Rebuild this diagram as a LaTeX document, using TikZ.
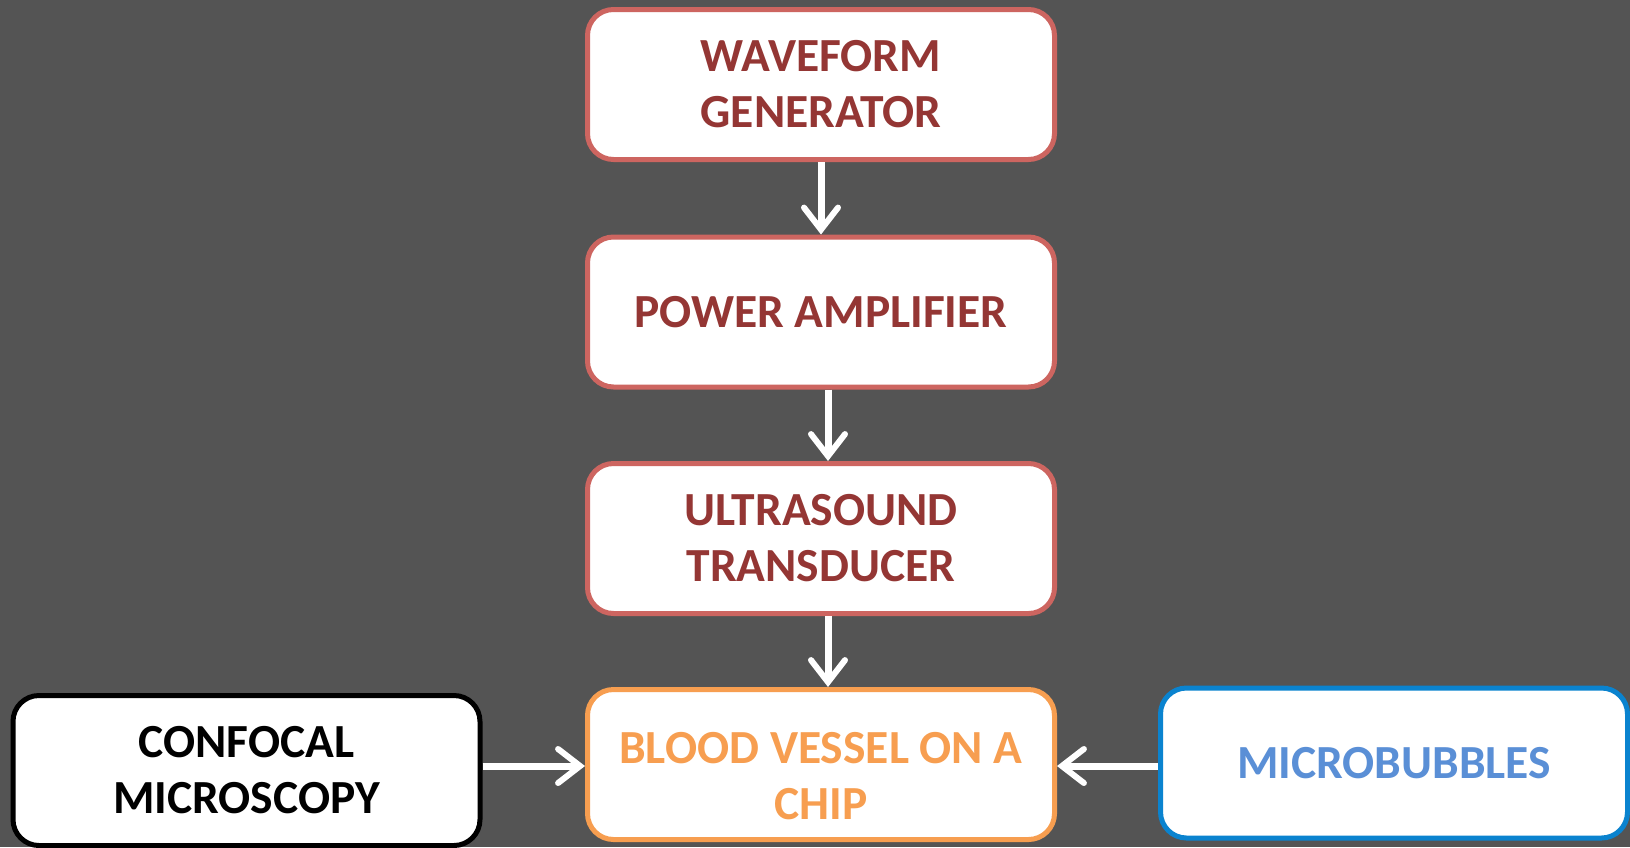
\documentclass[tikz,border=0pt]{standalone}
\usepackage{fontspec}
\setmainfont{Carlito}
\usetikzlibrary{arrows.meta}

\definecolor{bgcol}{HTML}{545454}
\definecolor{redline}{HTML}{CD6560}
\definecolor{redtext}{HTML}{943634}
\definecolor{orangecol}{HTML}{F79E50}
\definecolor{bluelinecol}{HTML}{0A83CF}
\definecolor{bluetext}{HTML}{5A8FD6}

\tikzset{
  block/.style={draw, fill=white, rounded corners=26pt, line width=5pt,
    minimum width=467pt, minimum height=150pt, align=center,
    font=\fontsize{47.5pt}{56pt}\selectfont\bfseries},
  chain/.style={block, draw=redline, text=redtext},
  caption/.style={align=center, font=\fontsize{47.5pt}{56pt}\selectfont\bfseries},
  flow/.style={white, line width=7pt,
    -{Straight Barb[length=22pt,width=34pt,line width=6pt,line cap=round]}}
}

\begin{document}
\begin{tikzpicture}[x=1pt,y=-1pt]
        \fill[bgcol] (0,0) rectangle (1630,847);
        \useasboundingbox (0,0) rectangle (1630,847);
        % signal chain
        \node[chain] (wg) at (821,84.5) {WAVEFORM\\GENERATOR};
        \node[chain] (pa) at (821,312) {POWER AMPLIFIER};
        \node[chain] (us) at (821,538.5) {ULTRASOUND\\TRANSDUCER};
        \node[block, draw=orangecol] (bv) at (821,764.5) {};
        \node[caption, text=orangecol] (bvtext) at (821,776) {BLOOD VESSEL ON A\\CHIP};
        % side inputs
        \node[block, draw=black, text=black] (cm) at (246.5,770.5) {CONFOCAL\\MICROSCOPY};
        \node[block, draw=bluelinecol, text=bluetext] (mb) at (1394,763) {MICROBUBBLES};
        \draw[flow] (wg.south) -- (pa.north);
        \draw[flow] ([xshift=7pt]pa.south) -- ([xshift=7pt]us.north);
        \draw[flow] ([xshift=7pt]us.south) -- ([xshift=7pt]bv.north);
        \draw[flow] ([yshift=4.5pt]cm.east) -- ([yshift=4.5pt]cm.east -| bv.west);
        \draw[flow] ([yshift=-3pt]mb.west) -- ([yshift=-3pt]mb.west -| bv.east);
\end{tikzpicture}
\end{document}
